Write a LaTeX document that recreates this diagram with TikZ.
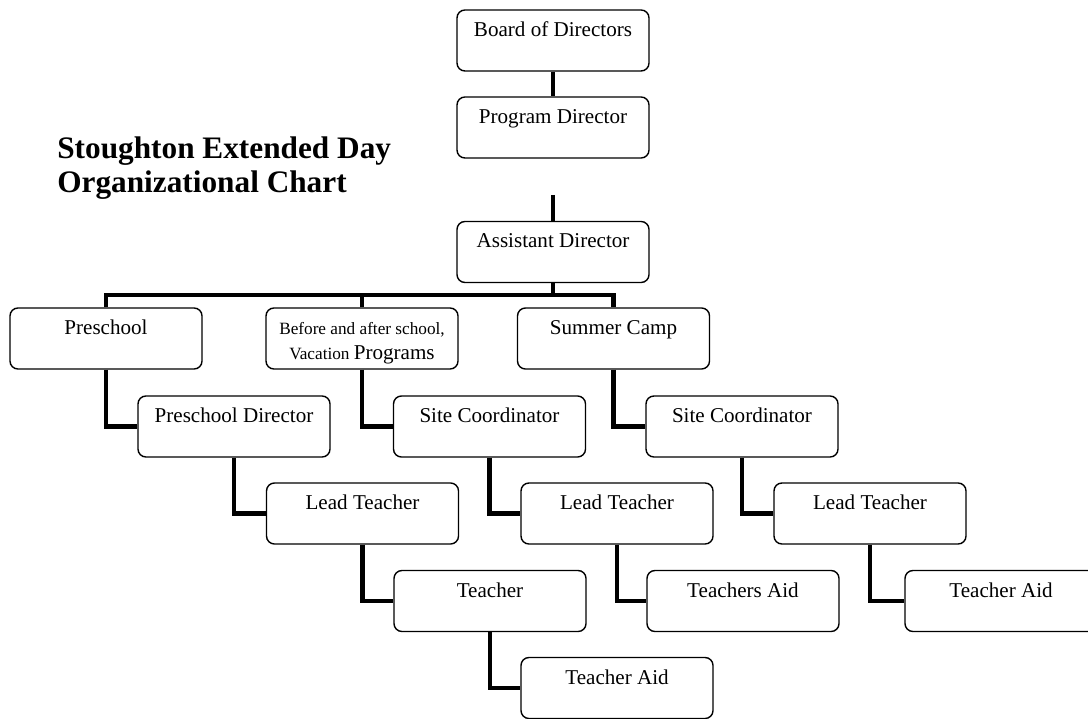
\documentclass[tikz,border=0pt]{standalone}
\usepackage{fontspec}
\setmainfont{Liberation Serif}
\tikzset{
    unit/.style={
        draw,
        line width=0.8pt,
        rounded corners=4.5pt,
        minimum width=3.84cm,
        minimum height=1.22cm,
        inner sep=0.1cm,
        text height=0.43cm,
        text depth=0.59cm,
        font=\fontsize{12}{14}\selectfont
    },
    link/.style={line width=2.8pt},
    heading/.style={anchor=base west, inner sep=0pt, font=\fontsize{17.8}{20}\selectfont\bfseries}
}

\begin{document}
\begin{tikzpicture}
	\useasboundingbox (0,0) rectangle (21.76,-14.38);
	% title
	\node[heading] at (1.14,-3.17) (title1) {Stoughton Extended Day};
	\node[heading] at (1.14,-3.86) (title2) {Organizational Chart};
	% top of the chart
	\node[unit] at (11.06,-0.81) (board) {Board of Directors};
	\node[unit] at (11.06,-2.55) (prog) {Program Director};
	\node[unit] at (11.06,-5.04) (asst) {Assistant Director};
	\coordinate (gap) at (11.06,-3.9);
	\coordinate (bus) at (11.06,-5.9);
	% programs
	\node[unit] at (2.12,-6.77) (pre) {Preschool};
	\node[unit] at (7.24,-6.77) (before) {\begin{tabular}[t]{@{}c@{}}\fontsize{9.8}{13}\selectfont Before and after school,\\ \fontsize{9.8}{13}\selectfont Vacation {\fontsize{12}{13}\selectfont Programs}\end{tabular}};
	\node[unit] at (12.27,-6.77) (summer) {Summer Camp};
	% staff
	\node[unit] at (4.68,-8.53) (predir) {Preschool Director};
	\node[unit] at (9.79,-8.53) (siteb) {Site Coordinator};
	\node[unit] at (14.84,-8.53) (sites) {Site Coordinator};
	\node[unit] at (7.25,-10.27) (leadp) {Lead Teacher};
	\node[unit] at (12.34,-10.27) (leadb) {Lead Teacher};
	\node[unit] at (17.40,-10.27) (leads) {Lead Teacher};
	\node[unit] at (9.80,-12.02) (teacher) {Teacher};
	\node[unit] at (14.86,-12.02) (aidb) {Teachers Aid};
	\node[unit] at (20.02,-12.02) (aids) {Teacher Aid};
	\node[unit] at (12.34,-13.76) (aidp) {Teacher Aid};
	\draw[link]
	(board) -- (prog)
	(gap) -- (asst.north)
	(asst.south) -- (bus)
	(pre.north) |- (bus)
	(before.north) |- (bus)
	(summer.north) |- (bus);
	\draw[link]
	(pre.south) |- (predir.west)
	(predir.south) |- (leadp.west)
	(leadp.south) |- (teacher.west)
	(teacher.south) |- (aidp.west)
	(before.south) |- (siteb.west)
	(siteb.south) |- (leadb.west)
	(leadb.south) |- (aidb.west)
	(summer.south) |- (sites.west)
	(sites.south) |- (leads.west)
	(leads.south) |- (aids.west);
\end{tikzpicture}
\end{document}
